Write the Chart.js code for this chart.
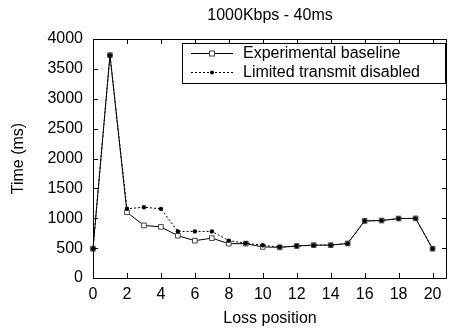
<!DOCTYPE html>
<html>
<head>
<meta charset="utf-8">
<script src="https://cdn.jsdelivr.net/npm/chart.js@4/dist/chart.umd.min.js"></script>
<style>
  body { margin: 0; background: #fff; }
  canvas { display: block; }
</style>
</head>
<body>
<canvas id="chart" width="452" height="331"></canvas>
<script>
// data
const positions = [0, 1, 2, 3, 4, 5, 6, 7, 8, 9, 10, 11, 12, 13, 14, 15, 16, 17, 18, 19, 20]
const baseline = [490, 3730, 1100, 880, 855, 708, 625, 667, 575, 575, 520, 513, 535, 550, 550, 578, 955, 962, 995, 998, 490]
const ltDisabled = [490, 3730, 1158, 1185, 1157, 780, 780, 780, 625, 582, 548, 518, 535, 550, 550, 578, 955, 962, 995, 998, 490]
const yTicks = [0, 500, 1000, 1500, 2000, 2500, 3000, 3500, 4000]
const seriesNames = ['Experimental baseline', 'Limited transmit disabled']

Chart.defaults.font.family = "'Liberation Sans', Arial, sans-serif"
Chart.defaults.font.size = 16
Chart.defaults.color = '#000'

const toPoints = (vals) => positions.map((x, i) => ({ x: x, y: vals[i] }))

// frame + inward ticks on all four sides (gnuplot style)
const framePlugin = {
    id: 'frame',
    afterDraw(chart) {
        const { ctx, chartArea: a, scales } = chart
        ctx.save()
        ctx.strokeStyle = '#000'
        ctx.lineWidth = 1
        ctx.strokeRect(a.left + 0.5, a.top + 0.5, a.right - a.left - 1, a.bottom - a.top)
        ctx.beginPath()
        scales.x.ticks.forEach(t => {
            const px = Math.round(scales.x.getPixelForValue(t.value)) + 0.5
            ctx.moveTo(px, a.bottom); ctx.lineTo(px, a.bottom - 5)
            ctx.moveTo(px, a.top); ctx.lineTo(px, a.top + 5)
        })
        scales.y.ticks.forEach(t => {
            const py = Math.round(scales.y.getPixelForValue(t.value)) + 0.5
            ctx.moveTo(a.left, py); ctx.lineTo(a.left + 5, py)
            ctx.moveTo(a.right, py); ctx.lineTo(a.right - 5, py)
        })
        ctx.stroke()
        ctx.restore()
    }
}

// legend box with line samples, drawn like the original
const legendPlugin = {
    id: 'boxLegend',
    afterDraw(chart) {
        const { ctx } = chart
        const ds = chart.data.datasets
        ctx.save()
        ctx.fillStyle = '#fff'
        ctx.fillRect(182.5, 43.5, 263, 40)
        ctx.strokeStyle = '#000'
        ctx.lineWidth = 1
        ctx.strokeRect(182.5, 43.5, 263, 40)
        const rows = [53.5, 72.5]
        rows.forEach((y, i) => {
            ctx.beginPath()
            ctx.setLineDash(ds[i].borderDash || [])
            ctx.strokeStyle = '#000'
            ctx.moveTo(191, y); ctx.lineTo(233, y)
            ctx.stroke()
            ctx.setLineDash([])
            if (i === 0) {
                ctx.fillStyle = '#fff'
                ctx.fillRect(210, y - 2.5, 4.5, 4.5)
                ctx.strokeStyle = '#444'
                ctx.strokeRect(209.5, y - 2.5, 5, 5)
            } else {
                ctx.fillStyle = '#000'
                ctx.beginPath()
                ctx.arc(212, y, 2, 0, Math.PI * 2)
                ctx.fill()
            }
            ctx.fillStyle = '#000'
            ctx.font = "16px 'Liberation Sans', Arial, sans-serif"
            ctx.textBaseline = 'middle'
            ctx.textAlign = 'left'
            ctx.fillText(seriesNames[i], 243, y)
        })
        ctx.restore()
    }
}

const data = {
    datasets: [{
        label: seriesNames[0],
        data: toPoints(baseline),
        borderColor: '#000',
        borderWidth: 1,
        pointStyle: 'rect',
        pointRadius: 3.3,
        pointBorderColor: '#444',
        pointBackgroundColor: '#fff',
        pointBorderWidth: 1,
        tension: 0,
        clip: false,
        order: 1
    }, {
        label: seriesNames[1],
        data: toPoints(ltDisabled),
        borderColor: '#000',
        borderWidth: 1,
        borderDash: [2, 2],
        pointStyle: 'circle',
        pointRadius: 2.2,
        pointBorderWidth: 0,
        pointBackgroundColor: '#000',
        tension: 0,
        clip: false,
        order: 0
    }]
}

const config = {
    type: 'line',
    data,
    options: {
        responsive: false,
        animation: false,
        devicePixelRatio: 1,
        layout: { padding: { right: 1 } },
        plugins: {
            legend: { display: false },
            tooltip: { enabled: false },
            title: {
                display: true,
                text: '1000Kbps - 40ms',
                fullSize: false,
                font: { size: 16, weight: 'normal' },
                padding: { top: 6, bottom: 13.8 }
            }
        },
        scales: {
            x: {
                type: 'linear',
                min: 0,
                max: 20.85,
                grid: { display: false, drawTicks: false },
                border: { display: false },
                ticks: { stepSize: 2, includeBounds: false, padding: 7, maxRotation: 0, callback: v => String(v) },
                title: { display: true, text: 'Loss position', padding: { top: 0, bottom: 2.4 } },
                afterFit(scale) { scale.height = 53 }
            },
            y: {
                min: 0,
                max: 4000,
                grid: { display: false, drawTicks: false },
                border: { display: false },
                afterBuildTicks(scale) { scale.ticks = yTicks.map(v => ({ value: v })) },
                ticks: { padding: 10, callback: v => String(v) },
                title: { display: true, text: 'Time (ms)', padding: { top: 8.7, bottom: 0 } },
                afterFit(scale) { scale.width = 93 }
            }
        }
    },
    plugins: [framePlugin, legendPlugin]
}

const lossChart = new Chart(document.getElementById('chart'), config)
</script>
</body>
</html>
